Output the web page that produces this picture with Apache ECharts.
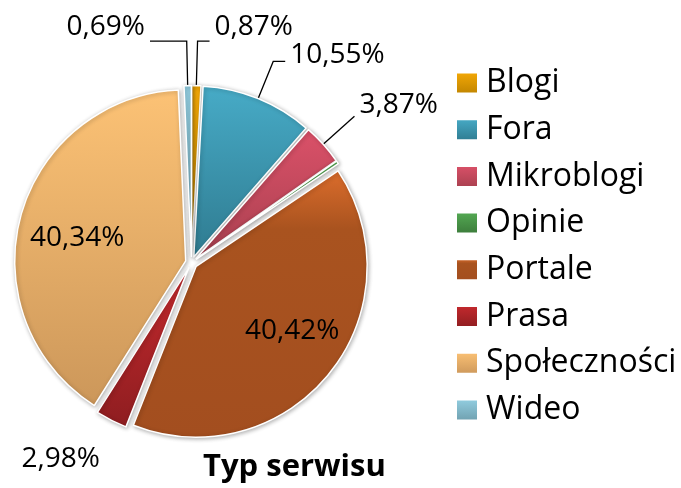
<!DOCTYPE html>
<html lang="pl">
<head>
<meta charset="UTF-8">
<title>Typ serwisu</title>
<script src="https://cdn.jsdelivr.net/npm/echarts@6/dist/echarts.min.js"></script>
<style>
    html, body { margin: 0; padding: 0; background: #fff; }
    #main { width: 681px; height: 488px; }
</style>
</head>
<body>
<div id="main"></div>
<script>
// dane
var names = ['Blogi', 'Fora', 'Mikroblogi', 'Opinie', 'Portale', 'Prasa', 'Społeczności', 'Wideo'];
var shares = [0.87, 10.55, 3.87, 0.28, 40.42, 2.98, 40.34, 0.69];

// kolory (gradient od góry do dołu)
var sliceColors = {
    'Blogi':        [[0, '#F5A906'], [1, '#BF8400']],
    'Fora':         [[0, '#47ABC7'], [1, '#2F7B90']],
    'Mikroblogi':   [[0, '#DB5169'], [1, '#A8404F']],
    'Opinie':       [[0, '#55AB54'], [1, '#3B7A3A']],
    'Portale':      [[0, '#DC6D2C'], [0.22, '#A9531F'], [1, '#A34E1F']],
    'Prasa':        [[0, '#C52A2E'], [1, '#8E1D20']],
    'Społeczności': [[0, '#FCC275'], [1, '#CC975A']],
    'Wideo':        [[0, '#93CFE2'], [1, '#6F9FAE']]
};

// etykiety: wewnątrz / na zewnątrz z linią odniesienia (jak w Excelu)
var labelSetup = {
    'Blogi':        { pos: 'outside', len: 44.5, len2: 12, pad: [0, 0, 29, 0] },
    'Fora':         { pos: 'outside', len: 40, len2: 12, pad: [0, 0, 13, 0] },
    'Mikroblogi':   { pos: 'outside', len: 42, len2: 0, pad: [0, 0, 23, 0] },
    'Opinie':       { show: false },
    'Portale':      { pos: 'inside', pad: [18, 0, 0, 54] },
    'Prasa':        { pos: 'outside', len: 43, len2: 0, pad: 0, noLine: true, dist: -8 },
    'Społeczności': { pos: 'inside', pad: [0, 46, 0, 0] },
    'Wideo':        { pos: 'outside', len: 44.5, len2: 36.7, pad: [0, 0, 29, 0] }
};

function grad(stops) {
    return new echarts.graphic.LinearGradient(0, 0, 0, 1, stops.map(function (s) {
        return { offset: s[0], color: s[1] };
    }));
}

var pieData = names.map(function (name, i) {
    var s = labelSetup[name];
    var item = {
        name: name,
        value: shares[i],
        selected: true,
        itemStyle: { color: grad(sliceColors[name]) }
    };
    if (s.show === false) {
        item.label = { show: false };
        item.labelLine = { show: false };
    } else if (s.pos === 'inside') {
        item.label = { position: 'inside', padding: s.pad };
        item.labelLine = { show: false };
    } else {
        item.label = { position: 'outside', padding: s.pad };
        if (s.dist != null) item.label.distanceToLabelLine = s.dist;
        item.labelLine = { show: !s.noLine, length: s.len, length2: s.len2 };
    }
    return item;
});

var myChart = echarts.init(document.getElementById('main'), null, { renderer: 'canvas' });

var option = {
    animation: false,
    backgroundColor: '#fff',
    title: {
        text: 'Typ serwisu',
        left: 203,
        top: 452,
        padding: 0,
        textStyle: { fontFamily: 'Open Sans', fontWeight: 'bold', fontSize: 31, color: '#000' }
    },
    legend: {
        orient: 'vertical',
        left: 455,
        top: 67,
        padding: 0,
        itemWidth: 22,
        itemHeight: 21,
        itemGap: 14.7,
        icon: 'rect',
        data: names,
        textStyle: {
            fontFamily: 'Open Sans',
            fontSize: 32,
            lineHeight: 32,
            color: '#000',
            padding: [0, 0, 0, 3]
        }
    },
    series: [{
        name: 'Typ serwisu',
        type: 'pie',
        center: [191.5, 262.5],
        radius: [0, 171],
        startAngle: 90,
        clockwise: true,
        selectedMode: 'multiple',
        selectedOffset: 6,
        avoidLabelOverlap: false,
        labelLayout: { hideOverlap: false },
        itemStyle: {
            borderColor: '#fff',
            borderWidth: 1.5,
            shadowBlur: 4,
            shadowColor: 'rgba(0,0,0,0.3)',
            shadowOffsetX: 1,
            shadowOffsetY: 1
        },
        emphasis: { disabled: true },
        label: {
            position: 'outside',
            formatter: function (p) {
                return '{v|' + p.value.toFixed(2).replace('.', ',') + '%}';
            },
            rich: {
                v: { fontFamily: 'Open Sans', fontSize: 28, lineHeight: 38, color: '#000' }
            }
        },
        labelLine: {
            lineStyle: { color: '#000', width: 1.3 }
        },
        data: pieData
    }]
};

myChart.setOption(option);
</script>
</body>
</html>
